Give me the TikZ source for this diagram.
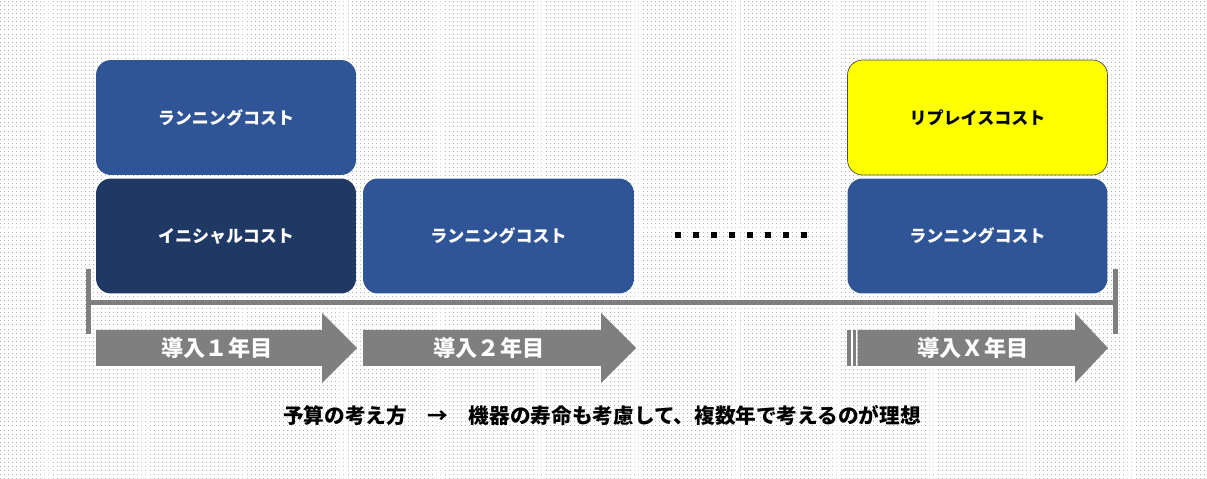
\documentclass[tikz,border=0pt]{standalone}
\usepackage{fontspec}
\setmainfont{Noto Sans CJK JP}
\usetikzlibrary{patterns}
\definecolor{runblue}{HTML}{2F5597}
\definecolor{initnavy}{HTML}{203864}
\definecolor{replyellow}{HTML}{FFFF00}
\definecolor{arrowgray}{HTML}{7F7F7F}
\definecolor{dotgray}{HTML}{B4B4B4}
\pgfdeclarepatternformonly{finedots}{\pgfqpoint{-0.1pt}{-0.1pt}}{\pgfqpoint{2.4pt}{2.4pt}}{\pgfqpoint{2.3pt}{2.3pt}}{%
  \pgfpathrectangle{\pgfqpoint{0pt}{0pt}}{\pgfqpoint{0.55pt}{0.55pt}}\pgfusepath{fill}}
\tikzset{
  basebox/.style={rectangle,rounded corners=0.3cm,minimum width=5.2cm,minimum height=2.3cm,inner sep=0pt,align=center,font=\fontsize{9.7}{11}\selectfont\bfseries},
  costbox/.style={basebox,fill=runblue,text=white},
  initbox/.style={basebox,fill=initnavy,text=white},
  replbox/.style={basebox,fill=replyellow,draw=black!70,line width=0.4pt,text=black},
  yearlab/.style={text=white,font=\fontsize{12.6}{14}\selectfont\bfseries},
  axis/.style={draw=arrowgray,line width=0.1cm},
  dotsq/.style={rectangle,fill=black,minimum size=0.12cm,inner sep=0pt}
}
\begin{document}
\begin{tikzpicture}[x=0.02cm,y=-0.02cm]
  \fill[pattern=finedots,pattern color=dotgray] (0,0) rectangle (1207,479);
  \useasboundingbox (0,0) rectangle (1207,479);

  \node[costbox] (run1) at (226,117.5) {ランニングコスト};
  \node[initbox] (init1) at (226,236) {イニシャルコスト};
  \node[costbox,minimum width=5.42cm] (run2) at (498.5,236) {ランニングコスト};
  \node[replbox] (repl) at (977.5,117.5) {リプレイスコスト};
  \node[costbox] (runX) at (977.5,236) {ランニングコスト};

  \foreach \i in {0,...,7}
    \node[dotsq] (dot\i) at (678+18*\i,235) {};

  \coordinate (axisL) at (88,302.5);
  \coordinate (axisR) at (1115,302.5);
  \draw[axis] (axisL) -- (axisR);
  \draw[axis] (88,269) -- (88,334);
  \draw[axis] (1115,269) -- (1115,334);

  \foreach \s/\h/\t in {96/322/357,363/601/636}
    \fill[arrowgray] (\s,330) -- (\h,330) -- (\h,313) -- (\t,348) -- (\h,383) -- (\h,366) -- (\s,366) -- cycle;
  \fill[arrowgray] (847,330) rectangle (850.5,366);
  \fill[arrowgray] (852.5,330) rectangle (855.5,366);
  \fill[arrowgray] (857.5,330) -- (1075,330) -- (1075,313) -- (1108,348) -- (1075,383) -- (1075,366) -- (857.5,366) -- cycle;
  \node[yearlab] (yr1) at (217,348) {導入１年目};
  \node[yearlab] (yr2) at (489,348) {導入２年目};
  \node[yearlab] (yrX) at (973,348) {導入Ｘ年目};

  \node[font=\fontsize{11.75}{14}\selectfont\bfseries] (note) at (602,416) {予算の考え方　→　機器の寿命も考慮して、複数年で考えるのが理想};
\end{tikzpicture}
\end{document}
